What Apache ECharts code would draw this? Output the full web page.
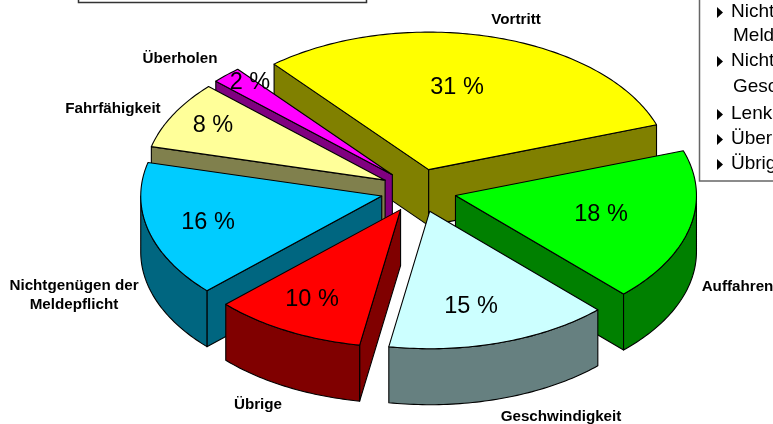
<!DOCTYPE html>
<html>
<head>
<meta charset="utf-8">
<script src="https://cdn.jsdelivr.net/npm/echarts@6/dist/echarts.min.js"></script>
<style>html,body{margin:0;padding:0;background:#fff;overflow:hidden}#c{width:773px;height:424px}</style>
</head>
<body>
<div id="c"></div>
<script>
// ---- data ----
const categories = ['Vortritt','Auffahren','Geschwindigkeit','Übrige','Nichtgenügen der\nMeldepflicht','Fahrfähigkeit','Überholen'];
// slice sizes; the printed labels are these rounded to whole percent
const shares = [30.8,18,15,10.2,16,8,2];
const legendLines = ['Nichtgenügen der','Meldepflicht','Nichtanpassen der','Geschwindigkeit','Lenken','Überholen','Übrige'];

// ---- styles and layout ----
const topColors  = ['#FFFF00','#00FF00','#CCFFFF','#FF0000','#00CCFF','#FFFF99','#FF00FF'];
const sideColors = ['#808000','#008000','#668080','#800000','#006680','#80804D','#800080'];
const paintOrder = [0,6,5,4,1,3,2];
const pie = {cx:418.5, cy:190.5, rx:241, ry:137.5, explode:38, depth:56, startDeg:-39.9};
const pctPos  = [[457,88],[601,215],[471,307],[312,300],[208,223],[213,126],[250,83]];
const namePos = [[516,20],[737.5,287],[561,417],[258,405],[74,295.5],[113,109],[180,59]];
const legendY = [11,35,60,86,113,138,163];
const legendX = [731,733,731,733,731,731,731];
const legendMark = [true,false,true,false,true,true,true];

const total = shares.reduce((a,b)=>a+b,0);
const spans = [];
shares.reduce((acc,v)=>{ const end = acc + v/total*360; spans.push([acc,end]); return end; }, pie.startDeg);

const rad = d => d*Math.PI/180;
function renderSlice(params, api){
  const i = api.value(1);
  const [s,e] = spans[i];
  const m = (s+e)/2;
  const k = pie.ry/pie.rx;
  const ax = pie.cx + pie.explode*Math.sin(rad(m));
  const ay = pie.cy - pie.explode*k*Math.cos(rad(m));
  const P = d => [ax + pie.rx*Math.sin(rad(d)), ay - pie.ry*Math.cos(rad(d))];
  const down = p => [p[0], p[1]+pie.depth];
  const lineStyle = {stroke:'#000', lineWidth:1.1, lineJoin:'round'};
  const children = [];
  const wall = pts => children.push({type:'polygon', shape:{points:pts},
    style:Object.assign({fill:sideColors[i]}, lineStyle)});
  // radial walls that face the viewer
  if (Math.sin(rad(s))<0) wall([[ax,ay],P(s),down(P(s)),[ax,ay+pie.depth]]);
  if (Math.sin(rad(e))>0) wall([[ax,ay],P(e),down(P(e)),[ax,ay+pie.depth]]);
  // outer rim
  const lo = Math.max(s,90), hi = Math.min(e,270);
  if (hi>lo){
    const up=[], dn=[];
    for (let d=lo; d<hi; d+=1){ up.push(P(d)); dn.push(down(P(d))); }
    up.push(P(hi)); dn.push(down(P(hi)));
    wall(up.concat(dn.reverse()));
  }
  // top face
  const top=[[ax,ay]];
  for (let d=s; d<e; d+=1) top.push(P(d));
  top.push(P(e));
  children.push({type:'polygon', shape:{points:top},
    style:Object.assign({fill:topColors[i]}, lineStyle)});
  // labels
  children.push({type:'text', z2:20, style:{text:Math.round(api.value(0))+' %', x:pctPos[i][0], y:pctPos[i][1],
    align:'center', verticalAlign:'middle', fill:'#000',
    font:'23.5px "Liberation Sans", Arial, sans-serif'}});
  children.push({type:'text', z2:20, style:{text:categories[i], x:namePos[i][0], y:namePos[i][1],
    align:'center', verticalAlign:'middle', fill:'#000', lineHeight:19,
    font:'bold 15.2px "Liberation Sans", Arial, sans-serif'}});
  return {type:'group', children};
}

const graphics = [
  {type:'rect', shape:{x:78.5,y:-40,width:288,height:42.5},
   style:{fill:'#fff',stroke:'#333',lineWidth:1.5}, z:1},
  {type:'rect', shape:{x:699.5,y:-40,width:120,height:221},
   style:{fill:'#fff',stroke:'#666',lineWidth:1.5}, z:1}
];
legendLines.forEach((t,i)=>{
  graphics.push({type:'text', z:2, style:{text:t, x:legendX[i], y:legendY[i]+1,
    verticalAlign:'middle', align:'left', fill:'#000',
    font:'19px "Liberation Sans", Arial, sans-serif'}});
  if (legendMark[i]) graphics.push({type:'polygon', z:2, shape:{points:[
    [717,legendY[i]-4],[723,legendY[i]+1.5],[717,legendY[i]+7]]}, style:{fill:'#000'}});
});

const chart = echarts.init(document.getElementById('c'), null, {renderer:'canvas'});
chart.setOption({
  animation:false,
  backgroundColor:'#fff',
  graphic:graphics,
  series:[{
    type:'custom',
    coordinateSystem:'none',
    renderItem:renderSlice,
    data:paintOrder.map(i=>[shares[i], i])
  }]
});
</script>
</body>
</html>
